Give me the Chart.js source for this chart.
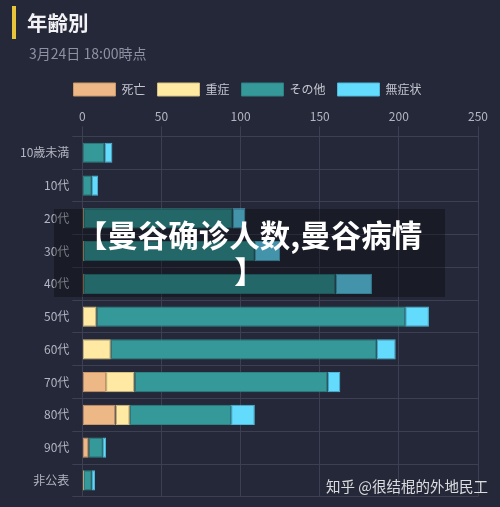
<!DOCTYPE html>
<html>
<head>
<meta charset="utf-8">
<script src="https://cdn.jsdelivr.net/npm/chart.js@4.4.1/dist/chart.umd.min.js"></script>
<style>
  html, body { margin: 0; padding: 0; background: #252839; }
  #wrap { position: relative; width: 500px; height: 507px; overflow: hidden; font-family: "Noto Sans CJK JP", "Noto Sans", sans-serif; }
  #bar { position: absolute; left: 12px; top: 6px; width: 4px; height: 33px; background: #e8c43a; }
  #title { position: absolute; left: 27px; top: 7px; font-size: 20.5px; font-weight: 700; color: #f2f2f4; line-height: 30px; }
  #sub { position: absolute; left: 29px; top: 44px; font-size: 14px; color: #8e91a3; line-height: 18px; }
  #chartBox { position: absolute; left: 0; top: 0; width: 500px; height: 507px; }
  #overlay { position: absolute; left: 54px; top: 209px; width: 391px; height: 88px; background: rgba(0,0,0,0.32);
    color: #fff; font-family: "Noto Sans CJK SC", sans-serif; font-weight: 700; font-size: 30.5px; line-height: 36px;
    text-align: center; box-sizing: border-box; padding-top: 7px; }
  #mark { position: absolute; left: 326px; top: 476px; font-family: "Noto Sans CJK SC", sans-serif; font-size: 14.5px;
    color: rgba(240,240,240,0.9); line-height: 20px; white-space: nowrap; }
</style>
</head>
<body>
<div id="wrap">
  <div id="chartBox"><canvas id="c" width="500" height="507"></canvas></div>
  <div id="bar"></div>
  <div id="title">年齢別</div>
  <div id="sub">3月24日 18:00時点</div>
  <div id="overlay">【曼谷确诊人数,曼谷病情<br>】</div>
  <div id="mark">知乎 @很结棍的外地民工</div>
</div>
<script>
'use strict';

// ── Data ─────────────────────────────────────────────
const categories = ['10歳未満', '10代', '20代', '30代', '40代', '50代', '60代', '70代', '80代', '90代', '非公表'];
const deaths     = [0, 0, 0, 0, 1, 0, 0, 15, 21, 4, 0];
const severe     = [0, 0, 1, 1, 0, 9, 18, 18, 9, 0, 1];
const others     = [14, 6, 94, 108, 159, 195, 168, 122, 64, 9, 5];
const noSymptom  = [5, 4, 8, 16, 23, 15, 12, 8, 15, 2, 2];
const xTicks     = [0, 50, 100, 150, 200, 250];

const gridColor = '#3d4053';
const textColor = '#b3b5c2';

Chart.defaults.font.family = '"Noto Sans CJK JP", "Noto Sans", sans-serif';

const series = [
  { label: '死亡',   data: deaths,    backgroundColor: '#edb886', borderColor: '#c9976a' },
  { label: '重症',   data: severe,    backgroundColor: '#ffe9a3', borderColor: '#d8c283' },
  { label: 'その他', data: others,    backgroundColor: '#35999a', borderColor: '#2d8283' },
  { label: '無症状', data: noSymptom, backgroundColor: '#63dbfd', borderColor: '#4fb8d6' },
];

new Chart(document.getElementById('c'), {
  type: 'bar',
  data: {
    labels: categories,
    datasets: series.map(s => ({ ...s, borderWidth: 1, borderSkipped: false,
      barPercentage: 0.77, categoryPercentage: 0.8 }))
  },
  options: {
    indexAxis: 'y',
    responsive: false,
    animation: false,
    layout: { padding: { top: 71, right: 22, bottom: 10, left: 17 } },
    plugins: {
      legend: {
        position: 'top',
        labels: { boxWidth: 42, boxHeight: 13, padding: 12, color: '#c4c6d0', font: { size: 12 } }
      },
      tooltip: { enabled: false }
    },
    scales: {
      x: {
        position: 'top',
        stacked: true,
        min: 0, max: 250,
        afterBuildTicks: axis => { axis.ticks = xTicks.map(v => ({ value: v })); },
        ticks: { color: textColor, font: { size: 12 }, padding: 3 },
        grid: { color: gridColor, tickLength: 10 },
        border: { color: gridColor }
      },
      y: {
        stacked: true,
        ticks: { color: textColor, font: { size: 12 }, padding: 3 },
        grid: { color: gridColor, tickLength: 10, offset: true },
        border: { color: gridColor }
      }
    }
  }
});
</script>
</body>
</html>
